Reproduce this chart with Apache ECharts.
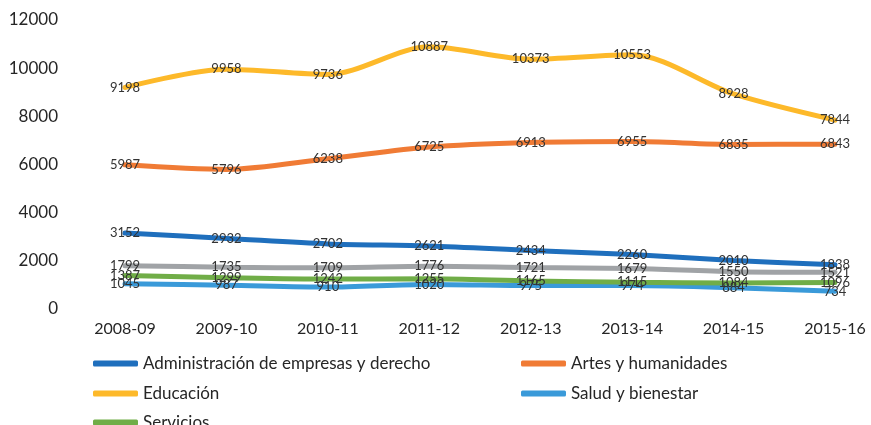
<!DOCTYPE html>
<html>
<head>
<meta charset="utf-8">
<script src="https://cdn.jsdelivr.net/npm/echarts@6/dist/echarts.min.js"></script>
<style>
  html, body { margin: 0; padding: 0; background: #fff; }
  #chart { width: 871px; height: 425px; }
</style>
</head>
<body>
<div id="chart"></div>
<script>
const years = ['2008-09', '2009-10', '2010-11', '2011-12', '2012-13', '2013-14', '2014-15', '2015-16']

const administracion = [3152, 2932, 2702, 2621, 2434, 2260, 2010, 1838]
const artes = [5987, 5796, 6238, 6725, 6913, 6955, 6835, 6843]
const educacion = [9198, 9958, 9736, 10887, 10373, 10553, 8928, 7844]
const salud = [1045, 987, 910, 1020, 975, 974, 884, 734]
const servicios = [1387, 1299, 1242, 1255, 1165, 1115, 1084, 1096]
const otros = [1799, 1735, 1709, 1776, 1721, 1679, 1550, 1521]

const fontFamily = 'Lato, "Open Sans", sans-serif'

const chart = echarts.init(document.getElementById('chart'))

const lines = [
  ['Otros', otros, '#a0a3a6'],
  ['Salud y bienestar', salud, '#3a9ad9'],
  ['Servicios', servicios, '#70ad47'],
  ['Administración de empresas y derecho', administracion, '#1f6fbd'],
  ['Artes y humanidades', artes, '#f07b35'],
  ['Educación', educacion, '#fdb92a']
]

const lineSeries = ([name, data, color]) => ({
  name: name,
  type: 'line',
  data: data,
  smooth: 0.3,
  symbol: 'none',
  z: 2,
  lineStyle: { width: 5, color: color, cap: 'round' },
  itemStyle: { color: color }
})

// invisible copies that only carry the value labels, so every label sits above every line
const labelSeries = ([name, data]) => ({
  name: name + ' (etiquetas)',
  type: 'line',
  data: data,
  symbol: 'circle',
  symbolSize: 0.01,
  showSymbol: true,
  silent: true,
  z: 10,
  lineStyle: { width: 0, opacity: 0 },
  itemStyle: { color: 'transparent' },
  label: {
    show: true,
    position: 'inside',
    fontSize: 13,
    color: '#333',
    fontFamily: fontFamily,
    formatter: (p) => String(p.value)
  }
})

const legendText = { fontSize: 17, color: '#262626', fontFamily: fontFamily }

// one legend per entry so the two columns line up like the original
const legendItem = (name, left, top) => ({
  left: left,
  top: top,
  itemWidth: 45,
  itemHeight: 6,
  icon: 'roundRect',
  textStyle: legendText,
  data: [name]
})

chart.setOption({
  animation: false,
  grid: { left: 125, right: 36, top: 20, bottom: 116 },
  legend: [
    legendItem('Administración de empresas y derecho', 88, 350),
    legendItem('Artes y humanidades', 516, 350),
    legendItem('Educación', 88, 380),
    legendItem('Salud y bienestar', 516, 380),
    legendItem('Servicios', 88, 409)
  ],
  xAxis: {
    type: 'category',
    data: years,
    boundaryGap: false,
    axisLine: { show: false },
    axisTick: { show: false },
    axisLabel: { fontSize: 16, color: '#262626', margin: 12, fontFamily: fontFamily }
  },
  yAxis: {
    type: 'value',
    min: 0,
    max: 12000,
    interval: 2000,
    splitLine: { show: false },
    axisLine: { show: false },
    axisTick: { show: false },
    axisLabel: {
      fontSize: 17,
      color: '#262626',
      margin: 67,
      fontFamily: fontFamily,
      formatter: (v) => String(v)
    }
  },
  series: lines.map(lineSeries).concat(lines.map(labelSeries))
})
</script>
</body>
</html>
